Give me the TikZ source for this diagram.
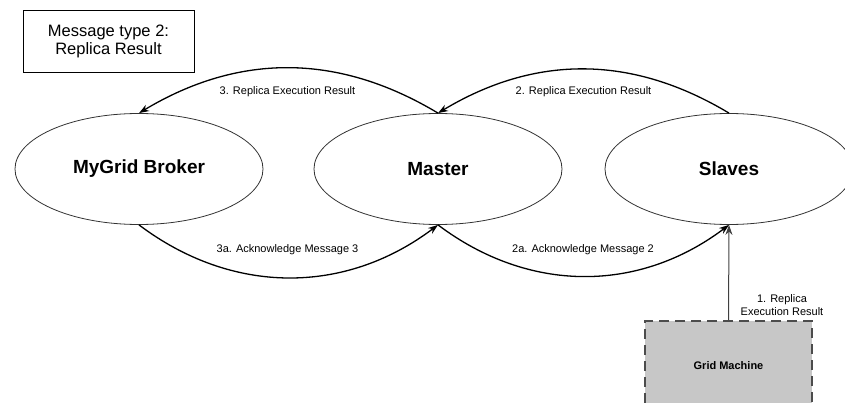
\documentclass[tikz,border=0pt]{standalone}
\usepackage{fontspec}
\setmainfont{Liberation Sans}
\usetikzlibrary{arrows.meta,shapes.geometric}

\begin{document}
\begin{tikzpicture}[x=1pt, y=-1pt, >={Stealth[length=10pt,width=7pt]},
    every node/.style={
        inner sep=0pt,
        font=\fontsize{11}{13}\selectfont
    },
    station/.style={
        ellipse,
        draw=black!80,
        line width=0.8pt,
        minimum width=248pt,
        minimum height=111pt,
        font=\fontsize{19}{23}\selectfont\bfseries
    },
    msg/.style={->, line width=1.3pt}
]
    \useasboundingbox (0,0) rectangle (845,403);

    \node (message_type) [draw, line width=0.8pt, minimum width=171pt, minimum height=62pt,
        align=center, font=\fontsize{16.5}{18}\selectfont, shift={(108.5, 41)}]
    {
        Message type 2:\\Replica Result
    };

    \node (mygrid_broker) [station, shift={(139, 169)}] {MyGrid Broker};
    \node (master) [station, shift={(438, 169)}] {Master};
    \node (slaves) [station, shift={(729, 169)}] {Slaves};

    \node (grid_machine) [draw=black!70, fill=black!22, line width=1.8pt,
        dash pattern=on 10pt off 6pt, minimum width=167pt, minimum height=90pt,
        font=\fontsize{11}{13}\selectfont\bfseries, shift={(728.5, 366)}]
    {
        Grid Machine
    };

    % labels of the messages
    \node (replica_result_3) [shift={(287.5, 92)}] {3. Replica Execution Result};
    \node (replica_result_2) [shift={(583.5, 92)}] {2. Replica Execution Result};
    \node (acknowledge_3) [shift={(287.5, 250)}] {3a. Acknowledge Message 3};
    \node (acknowledge_2) [shift={(583, 250)}] {2a. Acknowledge Message 2};
    \node (replica_result_1) [align=center, shift={(782, 305)}] {1. Replica\\Execution Result};

    \draw[->, line width=1pt, black!75] (grid_machine.north) to (slaves.south);

    \draw[msg] (slaves.north) to[bend right=31] (master.north);
    \draw[msg] (master.north) to[bend right=31] (mygrid_broker.north);
    \draw[msg] (mygrid_broker.south) to[bend right=37] (master.south);
    \draw[msg] (master.south) to[bend right=37] (slaves.south);
\end{tikzpicture}
\end{document}
